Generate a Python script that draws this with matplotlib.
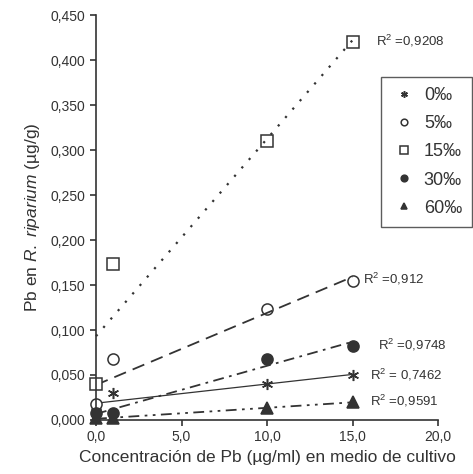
import matplotlib
matplotlib.use("Agg")
import matplotlib.pyplot as plt
import numpy as np
from matplotlib.ticker import FuncFormatter, MultipleLocator

plt.rcParams['font.family'] = ['Liberation Sans', 'DejaVu Sans']
plt.rcParams['mathtext.fontset'] = 'custom'
plt.rcParams['mathtext.rm'] = 'Liberation Sans'
plt.rcParams['mathtext.it'] = 'Liberation Sans:italic'

x = [0.0, 1.0, 10.0, 15.0]
series_names = ['0‰', '5‰', '15‰', '30‰', '60‰']
y_0 = [0.010, 0.030, 0.040, 0.050]
y_5 = [0.018, 0.068, 0.123, 0.155]
y_15 = [0.040, 0.173, 0.310, 0.420]
y_30 = [0.008, 0.008, 0.068, 0.082]
y_60 = [0.002, 0.002, 0.013, 0.020]
r2_labels = ['R$^2$ = 0,7462', 'R$^2$ =0,912', 'R$^2$ =0,9208', 'R$^2$ =0,9748', 'R$^2$ =0,9591']

col = '#333333'
fig = plt.figure(figsize=(4.73, 4.74), dpi=100)
ax = fig.add_axes([0.203, 0.114, 0.723, 0.854])

styles = [
    dict(marker=(6, 2, 0), ms=8, mfc='none', ls='-', lw=0.9),
    dict(marker='o', ms=8, mfc='white', ls=(0, (7, 4)), lw=1.3),
    dict(marker='s', ms=9, mfc='white', ls=(0, (1, 4)), lw=1.6),
    dict(marker='o', ms=8, mfc=col, ls=(0, (6, 3, 1.5, 3)), lw=1.3),
    dict(marker='^', ms=8, mfc=col, ls=(0, (6, 3, 1.5, 3, 1.5, 3)), lw=1.3),
]
data = [y_0, y_5, y_15, y_30, y_60]
xa = np.array(x)
handles = []
for ys, st, name in zip(data, styles, series_names):
    h, = ax.plot(x, ys, linestyle='none', marker=st['marker'], ms=st['ms'],
                 mfc=st['mfc'], mec=col, mew=1.1, label=name)
    handles.append(h)
    m, b = np.polyfit(xa, np.array(ys), 1)
    xx = np.array([0.0, 15.0])
    ax.plot(xx, m * xx + b, color=col, ls=st['ls'], lw=st['lw'])

# R² annotations
ax.text(16.0, 0.050, r2_labels[0], fontsize=9.5, color=col, va='center')
ax.text(15.6, 0.157, r2_labels[1], fontsize=9.5, color=col, va='center')
ax.text(16.4, 0.421, r2_labels[2], fontsize=9.5, color=col, va='center')
ax.text(16.5, 0.084, r2_labels[3], fontsize=9.5, color=col, va='center')
ax.text(16.0, 0.021, r2_labels[4], fontsize=9.5, color=col, va='center')

ax.set_xlim(0, 20)
ax.set_ylim(0, 0.45)
ax.xaxis.set_major_locator(MultipleLocator(5))
ax.yaxis.set_major_locator(MultipleLocator(0.05))
ax.xaxis.set_major_formatter(FuncFormatter(lambda v, p: f"{v:.1f}".replace('.', ',')))
ax.yaxis.set_major_formatter(FuncFormatter(lambda v, p: f"{v:.3f}".replace('.', ',')))
for s in ['top', 'right']:
    ax.spines[s].set_visible(False)
for s in ['left', 'bottom']:
    ax.spines[s].set_color(col)
    ax.spines[s].set_linewidth(1.2)
ax.tick_params(colors=col, labelsize=10, width=1.2, length=4, direction='out')
for ln in ax.lines:
    ln.set_clip_on(False)

ax.set_xlabel('Concentración de Pb (µg/ml) en medio de cultivo', fontsize=12.5, color=col, labelpad=4)
ax.set_ylabel(r'Pb en $\it{R.\ riparium}$ (µg/g)', fontsize=12.5, color=col, labelpad=6)

leg = fig.legend(handles=handles, loc='upper right', bbox_to_anchor=(472 / 473, 1 - 77 / 474),
                 bbox_transform=fig.transFigure,
                 fontsize=13, frameon=True, fancybox=False, edgecolor=col,
                 markerscale=0.6, handlelength=1.4, handletextpad=0.4,
                 labelspacing=0.62, borderpad=0.55, borderaxespad=0)
leg.get_frame().set_linewidth(1.0)
for t in leg.get_texts():
    t.set_color(col)

fig.savefig('out.png', dpi=100, facecolor='white')
